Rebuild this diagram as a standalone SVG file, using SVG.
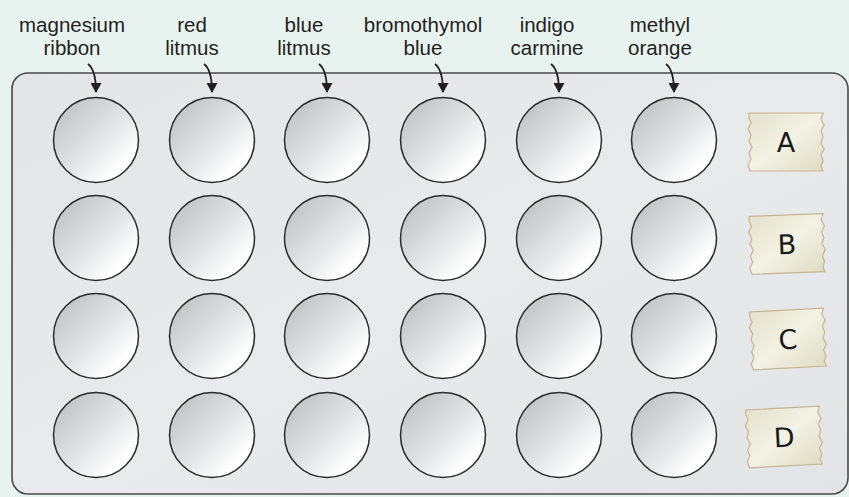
<svg xmlns="http://www.w3.org/2000/svg" width="849" height="497" viewBox="0 0 849 497">
<defs>
<linearGradient id="well" x1="0" y1="0" x2="1" y2="1">
<stop offset="0" stop-color="#b9babc"/>
<stop offset="0.55" stop-color="#e6e7e8"/>
<stop offset="0.8" stop-color="#ffffff"/>
</linearGradient>
<linearGradient id="tape" x1="0" y1="0" x2="1" y2="1">
<stop offset="0" stop-color="#e3e1cb"/>
<stop offset="0.5" stop-color="#f3f2e4"/>
<stop offset="1" stop-color="#dedbc3"/>
</linearGradient>
<linearGradient id="tray" x1="0" y1="0" x2="1" y2="1">
<stop offset="0" stop-color="#e4e5e7"/>
<stop offset="0.5" stop-color="#e9eaeb"/>
<stop offset="1" stop-color="#e3e4e6"/>
</linearGradient>
<marker id="ah" markerWidth="11" markerHeight="11" viewBox="0 0 11 11" refX="9" refY="5.5" orient="auto" markerUnits="userSpaceOnUse">
<path d="M0,0 L10,5.5 L0,11 Z" fill="#231f20"/>
</marker>
<path id="tapeShape" d="M -37,-29 L 37,-29 L 35,-23 L 38,-17 L 35,-11 L 37,-5 L 35,1 L 38,7 L 35,13 L 37,19 L 35,24 L 37,29 L -36,29 L -38,23 L -35,17 L -37,11 L -34,5 L -37,-1 L -35,-7 L -38,-13 L -35,-19 L -37,-24 Z"/>
</defs>
<style>
.lbl{font-family:"Liberation Sans",Arial,sans-serif;font-size:20.5px;fill:#231f20;text-anchor:middle}
.well{fill:url(#well);stroke:#2b2b2b;stroke-width:1.5}
.tape{fill:url(#tape);stroke:#c6b595;stroke-width:1.2}
.let{font-family:"DejaVu Sans",sans-serif;font-size:27px;fill:#1a1a1a;text-anchor:middle}
.arr{fill:none;stroke:#231f20;stroke-width:1.8;marker-end:url(#ah)}
</style>
<rect x="0" y="0" width="849" height="497" fill="#e8f3f0"/>
<rect id="tray" x="12" y="73" width="836" height="421" rx="16" ry="16" fill="url(#tray)" stroke="#4a4a4a" stroke-width="1.6"/>

<g id="labels">
<g id="label-magnesium"><text class="lbl" x="72" y="31.5">magnesium</text><text class="lbl" x="72" y="55">ribbon</text></g>
<g id="label-red"><text class="lbl" x="192" y="31.5">red</text><text class="lbl" x="192" y="55">litmus</text></g>
<g id="label-blue"><text class="lbl" x="304" y="31.5">blue</text><text class="lbl" x="304" y="55">litmus</text></g>
<g id="label-bromo"><text class="lbl" x="423" y="31.5">bromothymol</text><text class="lbl" x="423" y="55">blue</text></g>
<g id="label-indigo"><text class="lbl" x="547" y="31.5">indigo</text><text class="lbl" x="547" y="55">carmine</text></g>
<g id="label-methyl"><text class="lbl" x="660" y="31.5">methyl</text><text class="lbl" x="660" y="55">orange</text></g>
</g>

<g id="connectors">
<path class="arr" d="M88,64 Q96,70 96,92"/>
<path class="arr" d="M204,64 Q212,70 212,92"/>
<path class="arr" d="M319,64 Q327,70 327,92"/>
<path class="arr" d="M435,64 Q443,70 443,92"/>
<path class="arr" d="M551,64 Q559,70 559,92"/>
<path class="arr" d="M666,64 Q674,70 674,92"/>
</g>

<g id="wells">
<g id="row-A">
<circle class="well" cx="96" cy="140" r="42.5"/><circle class="well" cx="212" cy="140" r="42.5"/><circle class="well" cx="327" cy="140" r="42.5"/><circle class="well" cx="443" cy="140" r="42.5"/><circle class="well" cx="559" cy="140" r="42.5"/><circle class="well" cx="674" cy="140" r="42.5"/>
</g>
<g id="row-B">
<circle class="well" cx="96" cy="238" r="42.5"/><circle class="well" cx="212" cy="238" r="42.5"/><circle class="well" cx="327" cy="238" r="42.5"/><circle class="well" cx="443" cy="238" r="42.5"/><circle class="well" cx="559" cy="238" r="42.5"/><circle class="well" cx="674" cy="238" r="42.5"/>
</g>
<g id="row-C">
<circle class="well" cx="96" cy="336" r="42.5"/><circle class="well" cx="212" cy="336" r="42.5"/><circle class="well" cx="327" cy="336" r="42.5"/><circle class="well" cx="443" cy="336" r="42.5"/><circle class="well" cx="559" cy="336" r="42.5"/><circle class="well" cx="674" cy="336" r="42.5"/>
</g>
<g id="row-D">
<circle class="well" cx="96" cy="435" r="42.5"/><circle class="well" cx="212" cy="435" r="42.5"/><circle class="well" cx="327" cy="435" r="42.5"/><circle class="well" cx="443" cy="435" r="42.5"/><circle class="well" cx="559" cy="435" r="42.5"/><circle class="well" cx="674" cy="435" r="42.5"/>
</g>
</g>

<g id="tag-A" transform="translate(786,142)"><use href="#tapeShape" class="tape"/><text class="let" x="0" y="10">A</text></g>
<g id="tag-B" transform="translate(787,244) rotate(-2)"><use href="#tapeShape" class="tape"/><text class="let" x="0" y="10">B</text></g>
<g id="tag-C" transform="translate(788,339) rotate(-3)"><use href="#tapeShape" class="tape"/><text class="let" x="0" y="10">C</text></g>
<g id="tag-D" transform="translate(784,437) rotate(-3)"><use href="#tapeShape" class="tape"/><text class="let" x="0" y="10">D</text></g>
</svg>
